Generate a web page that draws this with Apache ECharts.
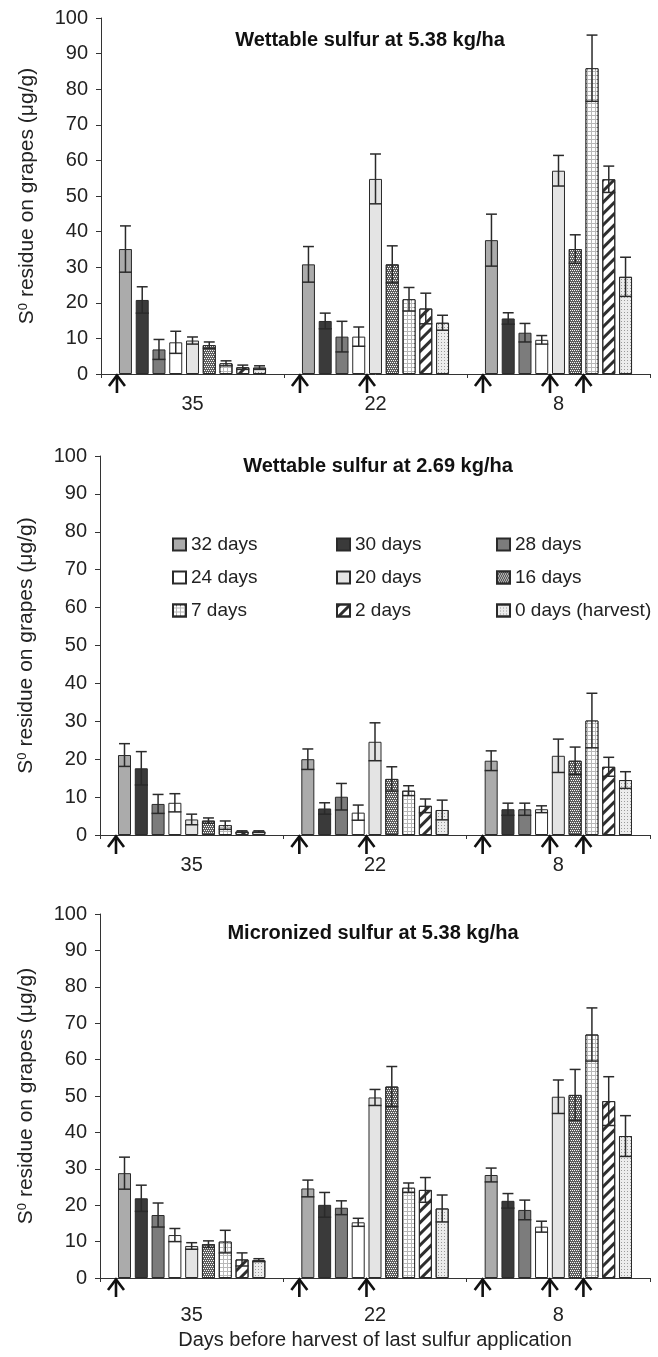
<!DOCTYPE html>
<html><head><meta charset="utf-8">
<script src="https://cdn.jsdelivr.net/npm/echarts@6/dist/echarts.min.js"></script>
<style>html,body{margin:0;padding:0;background:#fff}#c{width:658px;height:1357px}</style>
</head><body><div id="c"></div>
<script>
// ---------- data ----------
const categories = ['35', '22', '8'];
const seriesNames = ['32 days', '30 days', '28 days', '24 days', '20 days', '16 days', '7 days', '2 days', '0 days (harvest)'];
const panelTitles = ['Wettable sulfur at 5.38 kg/ha', 'Wettable sulfur at 2.69 kg/ha', 'Micronized sulfur at 5.38 kg/ha'];
const yAxisName = ['S', '0', ' residue on grapes (μg/g)'];
const xAxisName = 'Days before harvest of last sulfur application';

// rows = series (32,30,28,24,20,16,7,2,0 days), columns = categories (35, 22, 8)
const wettable538Mean = [
  [35.1, 30.8, 37.6], [20.8, 14.9, 15.6], [6.9, 10.5, 11.6], [8.9, 10.5, 9.6], [9.4, 54.8, 57.1],
  [8.1, 30.8, 35.1], [3.0, 21.0, 85.9], [1.9, 18.4, 54.7], [1.8, 14.4, 27.3]
];
const wettable538Err = [
  [6.5, 5.0, 7.3], [3.7, 2.2, 1.6], [2.8, 4.3, 2.6], [3.1, 2.7, 1.2], [1.0, 7.0, 4.3],
  [0.9, 5.2, 4.0], [0.7, 3.3, 9.3], [0.6, 4.3, 3.7], [0.5, 2.1, 5.5]
];
const wettable269Mean = [
  [21.1, 20.0, 19.6], [17.6, 7.0, 6.8], [8.2, 10.1, 6.8], [8.5, 5.9, 6.8], [4.1, 24.6, 20.9],
  [3.8, 14.8, 19.6], [2.6, 11.7, 30.2], [0.9, 7.7, 18.0], [0.9, 6.6, 14.5]
];
const wettable269Err = [
  [3.0, 2.7, 2.6], [4.4, 1.5, 1.6], [2.5, 3.5, 1.6], [2.4, 2.0, 0.9], [1.4, 5.0, 4.4],
  [0.7, 3.2, 3.6], [1.1, 1.3, 7.2], [0.2, 1.8, 2.5], [0.2, 2.6, 2.2]
];
const micronized538Mean = [
  [28.8, 24.6, 28.3], [21.9, 20.1, 21.2], [17.3, 19.3, 18.7], [11.8, 15.3, 14.1], [8.8, 49.6, 49.8],
  [9.3, 52.6, 50.3], [10.0, 24.8, 66.9], [5.1, 24.2, 48.6], [4.9, 19.1, 39.0]
];
const micronized538Err = [
  [4.4, 2.3, 1.9], [3.6, 3.4, 2.0], [3.3, 1.9, 2.7], [1.8, 1.1, 1.5], [0.9, 2.2, 4.6],
  [0.9, 5.5, 7.0], [3.1, 1.3, 7.3], [1.8, 3.4, 6.7], [0.4, 3.7, 5.6]
];
// sulfur application arrows: [category index, bar index]
const applicationArrows = [[0, 0], [1, 0], [1, 4], [2, 0], [2, 4], [2, 6]];

const panelMeans = [wettable538Mean, wettable269Mean, micronized538Mean];
const panelErrs = [wettable538Err, wettable269Err, micronized538Err];

// ---------- styles ----------
const FONT = '"Liberation Sans", Arial, Helvetica, sans-serif';
const FILLS = ['#ababab', '#3a3a3a', '#7c7c7c', '#ffffff', '#e4e4e4', '#5e5e5e', '#b8b8b8', '#ffffff', '#ececec'];
const DECALS = [null, null, null, null, null,
  { symbol: 'rect', symbolSize: 1, symbolKeepAspect: false, color: '#ffffff', dashArrayX: [[1, 1], [0, 1, 1, 0]], dashArrayY: [1, 1] },
  { symbol: 'rect', symbolSize: 1, symbolKeepAspect: false, color: '#ffffff', dashArrayX: [3, 1], dashArrayY: [3, 1] },
  { symbol: 'rect', symbolSize: 1, symbolKeepAspect: false, color: '#2e2e2e', dashArrayX: [1, 0], dashArrayY: [3, 5], rotation: -Math.PI / 4 },
  { symbol: 'rect', symbolSize: 1, symbolKeepAspect: false, color: '#9a9a9a', dashArrayX: [1, 2], dashArrayY: [1, 2] }
];
const BAR_FRAC = 0.071, GAP_FRAC = 0.29;
const grids = [
  { left: 101, right: 8, top: 18, height: 356 },
  { left: 100, right: 8, top: 456, height: 379 },
  { left: 100, right: 8, top: 914, height: 364 }
];
const xLabelMargin = [20, 20, 27];
const titlePos = [{ left: 370, top: 30 }, { left: 378, top: 456 }, { left: 373, top: 923 }];

function barGeom(api, c, s) {
  const band = api.size([1, 0])[0];
  const w = band * BAR_FRAC;
  const pitch = w * (1 + GAP_FRAC);
  const center = api.coord([c, 0])[0];
  return { x: center + (s - (seriesNames.length - 1) / 2) * pitch, w: w };
}

function renderErr(params, api) {
  const c = api.value(0), s = api.value(1), m = api.value(2), e = api.value(3);
  const g = barGeom(api, c, s);
  const yTop = api.coord([c, m + e])[1];
  const yLow = api.coord([c, Math.max(0, m - e)])[1];
  const st = { stroke: '#2a2a2a', lineWidth: 1.5 };
  return { type: 'group', children: [
    { type: 'line', shape: { x1: g.x, y1: yLow, x2: g.x, y2: yTop }, style: st },
    { type: 'line', shape: { x1: g.x - g.w * 0.42, y1: yTop, x2: g.x + g.w * 0.42, y2: yTop }, style: st },
    { type: 'line', shape: { x1: g.x - g.w / 2, y1: yLow, x2: g.x + g.w / 2, y2: yLow }, style: st }
  ]};
}

function renderArrow(params, api) {
  const c = api.value(0), s = api.value(1);
  const g = barGeom(api, c, s);
  const x = g.x - g.w / 2 - 2;
  const y0 = api.coord([c, 0])[1];
  const st = { stroke: '#111', lineWidth: 2.6, fill: null, lineJoin: 'miter' };
  return { type: 'group', children: [
    { type: 'polyline', shape: { points: [[x - 8, y0 + 12], [x, y0 + 1.5], [x + 8, y0 + 12]] }, style: st },
    { type: 'line', shape: { x1: x, y1: y0 + 1.5, x2: x, y2: y0 + 19 }, style: st }
  ]};
}

const richName = {
  n: { fontSize: 21, fontFamily: FONT, color: '#222' },
  s: { fontSize: 13, fontFamily: FONT, color: '#222', verticalAlign: 'top' }
};

const option = {
  animation: false,
  backgroundColor: '#ffffff',
  title: panelTitles.map((t, i) => ({
    text: t, left: titlePos[i].left, top: titlePos[i].top, textAlign: 'center', padding: 0,
    textStyle: { fontFamily: FONT, fontSize: 20, fontWeight: 'bold', color: '#111' }
  })),
  legend: [0, 1, 2].map(col => ({
    orient: 'vertical', left: [167, 331, 491][col], top: 530, icon: 'rect',
    itemWidth: 13, itemHeight: 12, itemGap: 14, selectedMode: false,
    data: [seriesNames[col], seriesNames[col + 3], seriesNames[col + 6]],
    textStyle: { fontFamily: FONT, fontSize: 19, color: '#222', lineHeight: 19 }
  })),
  grid: grids.map(g => Object.assign({ outerBoundsMode: 'none', containLabel: false }, g)),
  xAxis: grids.map((g, i) => ({
    type: 'category', gridIndex: i, data: categories,
    axisLine: { lineStyle: { color: '#333', width: 1 } },
    axisTick: { show: true, length: 4, lineStyle: { color: '#333' } },
    axisLabel: { fontFamily: FONT, fontSize: 20, color: '#222', margin: xLabelMargin[i] },
    name: i === 2 ? xAxisName : '', nameLocation: 'middle', nameGap: 52,
    nameTextStyle: { fontFamily: FONT, fontSize: 20, color: '#222' }
  })),
  yAxis: grids.map((g, i) => ({
    type: 'value', gridIndex: i, min: 0, max: 100, interval: 10,
    axisLine: { show: true, lineStyle: { color: '#333', width: 1 } },
    axisTick: { show: true, length: 5, lineStyle: { color: '#333' } },
    splitLine: { show: false },
    axisLabel: { fontFamily: FONT, fontSize: 20, color: '#222', margin: 13 },
    name: '{n|' + yAxisName[0] + '}{s|' + yAxisName[1] + '}{n|' + yAxisName[2] + '}',
    nameLocation: 'middle', nameGap: 63,
    nameTextStyle: { rich: richName }
  })),
  series: []
};

panelMeans.forEach((means, p) => {
  means.forEach((row, s) => {
    const itemStyle = { color: FILLS[s], borderColor: '#2a2a2a', borderWidth: 1 };
    if (DECALS[s]) itemStyle.decal = DECALS[s];
    option.series.push({
      type: 'bar', name: seriesNames[s], xAxisIndex: p, yAxisIndex: p,
      barWidth: (BAR_FRAC * 100) + '%', barGap: (GAP_FRAC * 100) + '%',
      itemStyle: itemStyle, data: row
    });
  });
  const errData = [];
  means.forEach((row, s) => row.forEach((m, c) => errData.push([c, s, m, panelErrs[p][s][c]])));
  option.series.push({
    type: 'custom', name: 'err' + p, xAxisIndex: p, yAxisIndex: p, z: 4,
    renderItem: renderErr, encode: { x: 0, y: 2 }, data: errData
  });
  option.series.push({
    type: 'custom', name: 'arrows' + p, xAxisIndex: p, yAxisIndex: p, z: 4, clip: false,
    renderItem: renderArrow, encode: { x: 0, y: 1 }, data: applicationArrows
  });
});

const chart = echarts.init(document.getElementById('c'), null, { renderer: 'canvas' });
chart.setOption(option);
</script>
</body></html>
